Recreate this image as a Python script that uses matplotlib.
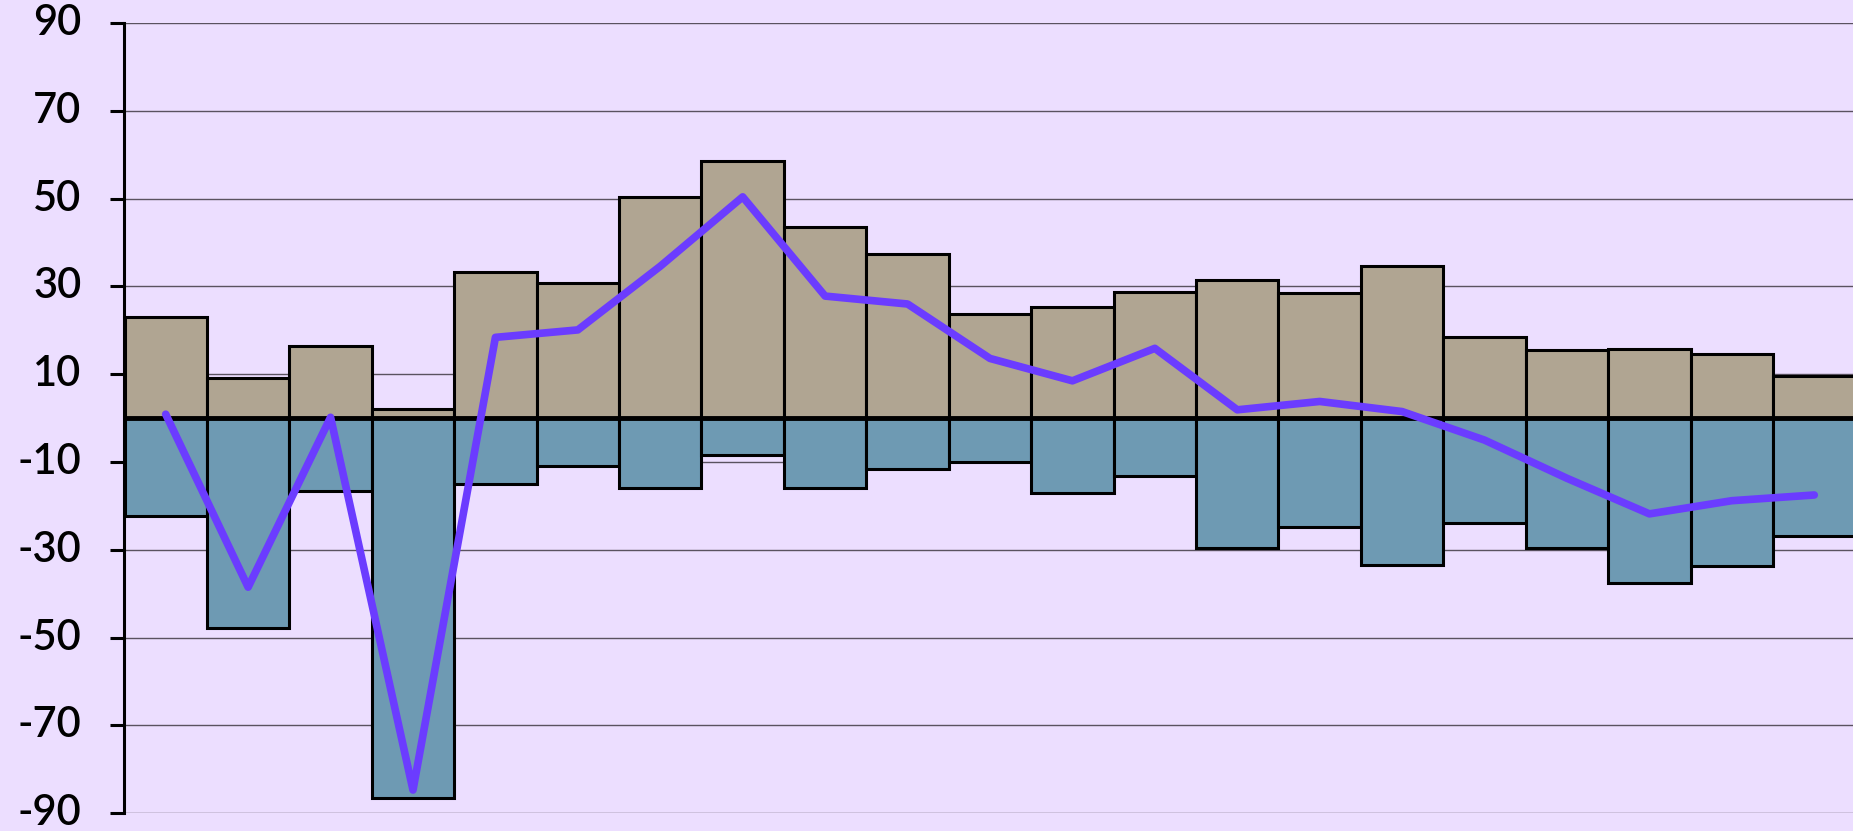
import matplotlib
matplotlib.use("Agg")
import matplotlib.pyplot as plt

# values
positive = [23.0, 9.1, 16.5, 2.1, 33.2, 30.7, 50.3, 58.6, 43.6, 37.3, 23.7,
            25.4, 28.7, 31.4, 28.4, 34.7, 18.4, 15.5, 15.8, 14.6, 9.5]
negative = [-22.3, -47.8, -16.6, -86.6, -15.0, -11.0, -15.8, -8.4, -16.0, -11.6, -10.0,
            -17.1, -13.1, -29.6, -24.8, -33.4, -23.8, -29.6, -37.6, -33.7, -26.8]
net = [0.9, -38.5, 0.2, -84.7, 18.4, 20.1, 34.6, 50.4, 27.8, 26.0, 13.6,
       8.5, 15.9, 1.9, 3.8, 1.5, -5.0, -13.7, -21.8, -18.8, -17.5]
yticks = [-90, -70, -50, -30, -10, 10, 30, 50, 70, 90]

BG = "#ecdeff"
plt.rcParams["font.family"] = ["Lato", "DejaVu Sans"]
plt.rcParams["axes.unicode_minus"] = False

W, H = 1853, 831
fig = plt.figure(figsize=(W / 100, H / 100), dpi=100, facecolor=BG)
ax = fig.add_axes([124.5 / W, 17.7 / H, (W - 124.5) / W, 790.3 / H], facecolor=BG)

x = list(range(len(positive)))
ax.bar(x, positive, width=1.0, color="#b0a592", edgecolor="black", linewidth=2.2, zorder=2)
ax.bar(x, negative, width=1.0, color="#6e9ab3", edgecolor="black", linewidth=2.2, zorder=2)
ax.axhline(0, color="black", linewidth=3.5, zorder=3)
ax.plot(x, net, color="#6b3cff", linewidth=5.5, solid_capstyle="round",
        solid_joinstyle="round", zorder=4)

ax.set_xlim(-0.5, 20.47)
ax.set_ylim(-90, 90)
ax.set_yticks(yticks)
ax.set_yticklabels([str(t) for t in yticks], fontweight="semibold", va="center")
ax.set_xticks([])
ax.set_axisbelow(True)
ax.yaxis.grid(True, color="#5a5260", linewidth=1.0)

for s in ["top", "right", "bottom"]:
    ax.spines[s].set_visible(False)
ax.spines["left"].set_linewidth(2.2)
ax.spines["left"].set_color("black")
ax.tick_params(axis="y", length=10, width=2.2, pad=21, labelsize=30, colors="black")

fig.savefig("out.png", dpi=100, facecolor=BG)
